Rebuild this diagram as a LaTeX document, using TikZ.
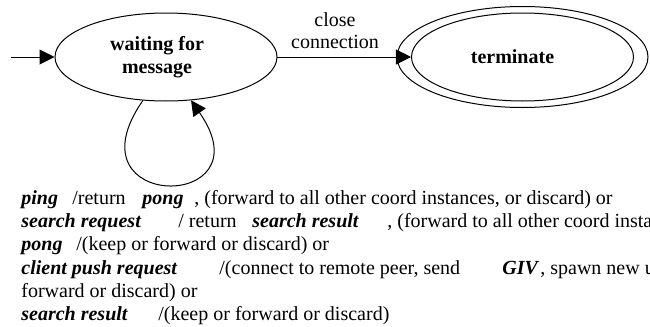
\documentclass[tikz,border=0pt]{standalone}
\usepackage{fontspec}
\setmainfont{Liberation Serif}
\usetikzlibrary{arrows.meta,shapes.geometric,positioning}
\tikzset{
  % State ellipse
  stbox/.style={ellipse,draw,line width=0.5pt,
    minimum width=111pt,minimum height=44pt,inner sep=0pt,
    align=center,font=\bfseries\fontsize{10}{11.5}\selectfont},
  % Arrows
  arr/.style={-{Triangle[length=7.5pt,width=7.5pt]},line width=0.5pt},
  lbl/.style={align=center,inner sep=0pt,font=\fontsize{10}{11}\selectfont},
  % Transition text
  txt/.style={anchor=base west,inner sep=0pt},
  kw/.style={txt,font=\bfseries\itshape},
}
\begin{document}
\begin{tikzpicture}[x=0.5pt,y=-0.5pt]
  \clip (0,0) rectangle (650,327);
  %% --- STATES ---
  \node[stbox] (wait) at (166,57) {waiting for\hspace*{9pt}\\message\hspace*{9pt}};
  \node[stbox] (term) at (522.5,57) {terminate\hspace*{10pt}};
  \draw[line width=0.5pt] (term.center) ellipse (62.75pt and 25.25pt);

  \coordinate (start) at (11,57);
  \draw[arr] (start) -- (wait);
  \draw[arr] (wait) -- (term);
  \node[lbl] (close) at (335,31) {close\\connection};
  \draw[arr] (wait.242) .. controls +(-78,112) and +(78,112) .. (wait.300);

  %% --- TRANSITIONS ---
  \node[kw] (ping) at (21,204) {ping};
  \node[txt] (ret1) at (72,204) {/return};
  \node[kw] (pong) at (142,204) {pong};
  \node[txt] (fwd1) at (194,204) {, (forward to all other coord instances, or discard) or};

  \node[kw] (sreq) at (21,227.3) {search request};
  \node[txt] (ret2) at (178,227.3) {/ return};
  \node[kw] (sres) at (252,227.3) {search result};
  \node[txt] (fwd2) at (387,227.3) {, (forward to all other coord insta};

  \node[kw] (pongb) at (21,250.7) {pong};
  \node[txt] (keep1) at (76,250.7) {/(keep or forward or discard) or};

  \node[kw] (push) at (21,274) {client push request};
  \node[txt] (conn) at (219,274) {/(connect to remote peer, send};
  \node[kw] (giv) at (502,274) {GIV};
  \node[txt] (spawn) at (540,274) {, spawn new u};

  \node[txt] (fwd3) at (21,297.3) {forward or discard) or};

  \node[kw] (sresb) at (21,320.7) {search result};
  \node[txt] (keep2) at (158,320.7) {/(keep or forward or discard)};
\end{tikzpicture}
\end{document}
